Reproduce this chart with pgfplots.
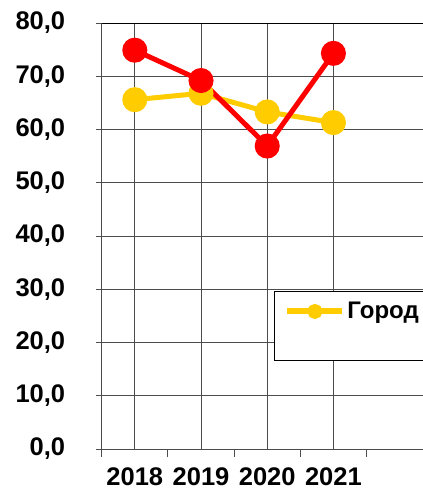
\documentclass[border=0pt]{standalone}
\usepackage{pgfplots}
\pgfplotsset{compat=1.18}
\usepackage{fontspec}
\setmainfont{Liberation Sans}
\definecolor{cred}{HTML}{FF0000}
\definecolor{cyel}{HTML}{FFCC00}
\begin{document}
\begin{tikzpicture}
\useasboundingbox (-101.7pt,-42pt) rectangle (321.3pt,449pt);
\clip (-101.7pt,-42pt) rectangle (321.3pt,449pt);
\begin{axis}[
  anchor=south west,
  scale only axis, width=321.3pt, height=426pt,
  xmin=0.5, xmax=5.353, ymin=0, ymax=80,
  axis x line*=bottom, axis y line*=left,
  axis line style={black!70, line width=1pt},
  xtick={1,2,3,4}, xticklabels={2018,2019,2020,2021},
  major x tick style={draw=none},
  xmajorgrids,
  extra x ticks={0.5,1.5,2.5,3.5,4.5},
  extra x tick labels={},
  extra x tick style={grid=none, major tick length=8pt, tick align=outside, major x tick style={draw=black!70, line width=1pt}},
  ytick={0,10,...,80},
  ymajorgrids,
  ytick align=outside, major tick length=6pt,
  grid style={black!70, line width=1pt},
  tick style={black!70, line width=1pt},
  ticklabel style={font=\bfseries\fontsize{25.5}{30}\selectfont},
  xticklabel style={yshift=-17pt, inner ysep=1pt},
  yticklabel style={xshift=-27pt},
  yticklabel={\pgfmathprintnumber[fixed,fixed zerofill,precision=1,use comma,assume math mode=true]{\tick}},
  legend style={at={(0.536,0.371)}, anchor=north west, draw=black, line width=1pt,
    font=\bfseries\fontsize{24}{28}\selectfont, inner xsep=10pt, inner ysep=9pt,
    cells={anchor=west}, row sep=7pt},
  legend image code/.code={
    \draw[line width=6pt,cyel] (0cm,0cm) -- (55pt,0cm);
    \fill[cyel] (27.5pt,0cm) circle (5pt);
  },
  clip=false,
]
\addplot[cyel, line width=5pt, mark=*, mark size=10pt, mark options={fill=cyel, draw=cyel}]
  coordinates {(1,65.6) (2,66.8) (3,63.3) (4,61.3)};
\addlegendentry{Город\hspace{40pt}}
\addplot[cred, line width=5pt, mark=*, mark size=10pt, mark options={fill=cred, draw=cred}, forget plot]
  coordinates {(1,74.9) (2,69.2) (3,56.9) (4,74.3)};
\addlegendimage{empty legend}
\addlegendentry{\phantom{Г}}
\draw[black, line width=1pt] (axis cs:0.5,80) -- (axis cs:5.353,80);
\end{axis}
\end{tikzpicture}
\end{document}
